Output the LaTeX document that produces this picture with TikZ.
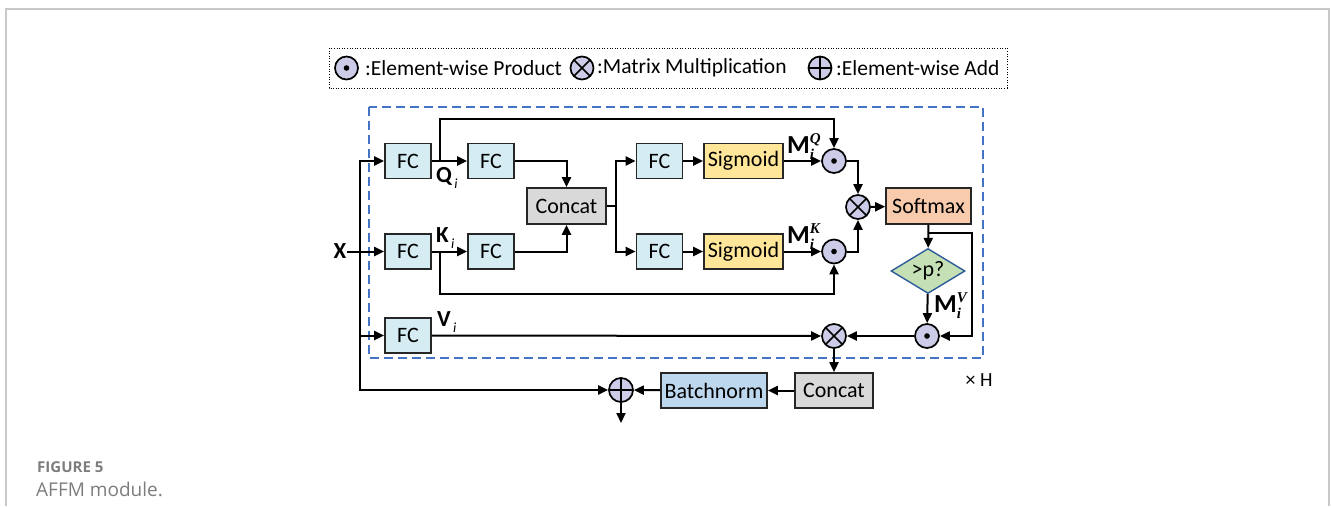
\documentclass[tikz,border=0pt]{standalone}
\usepackage{fontspec}
\setmainfont{Carlito}
\newfontfamily\capfont{Open Sans}
\newfontfamily\serifit{Liberation Serif}[UprightFont=*-Italic]
\usetikzlibrary{arrows.meta,shapes.geometric}

\definecolor{fcblue}{RGB}{212,236,242}
\definecolor{cgray}{RGB}{217,217,217}
\definecolor{sigy}{RGB}{255,230,153}
\definecolor{smax}{RGB}{248,203,173}
\definecolor{dgreen}{RGB}{197,224,180}
\definecolor{dblue}{RGB}{46,92,154}
\definecolor{bnblue}{RGB}{189,215,238}
\definecolor{opfill}{RGB}{204,204,232}
\definecolor{dashblue}{RGB}{68,114,196}
\definecolor{framegray}{RGB}{200,200,200}
\definecolor{capgray}{RGB}{125,125,125}

% bold symbol with italic serif sub- and superscript
\newcommand{\mscr}[3]{#1\makebox[0pt][l]{\raisebox{10pt}{\fontsize{15}{15}\selectfont\serifit #2}}\raisebox{-6pt}{\fontsize{15}{15}\selectfont\serifit #3}}
% bold symbol with small italic subscript
\newcommand{\sscr}[2]{#1\raisebox{-6pt}{\fontsize{14}{14}\selectfont\mdseries\itshape\,#2}}

\begin{document}
\begin{tikzpicture}[x=1pt,y=-1pt,
  conn/.style={line width=2pt,draw=black},
  arr/.style={conn,-{Triangle[length=10pt,width=9pt]}},
  box/.style={draw=black!85,line width=1.7pt,minimum height=35pt,inner sep=0pt,
    font=\fontsize{22}{24}\selectfont},
  fcbox/.style={box,fill=fcblue,minimum width=46pt},
  opnode/.style={circle,draw=black,fill=opfill,line width=1.7pt,minimum size=24pt,inner sep=0pt},
  dotop/.style={opnode,path picture={\fill[black] (path picture bounding box.center) circle (2.8pt);}},
  mulop/.style={opnode,path picture={\draw[black,line width=1.6pt] (path picture bounding box.center)
    +(-12,-12) -- +(12,12) +(-12,12) -- +(12,-12);}},
  addop/.style={opnode,path picture={\draw[black,line width=1.6pt] (path picture bounding box.center)
    +(-14,0) -- +(14,0) +(0,-14) -- +(0,14);}},
  lbl/.style={inner sep=0pt,font=\fontsize{23}{24}\selectfont\bfseries},
  mlbl/.style={inner sep=0pt,font=\fontsize{26}{26}\selectfont\bfseries},
  legtxt/.style={anchor=west,inner sep=0pt,font=\fontsize{21.5}{24}\selectfont}]
\useasboundingbox (0,0) rectangle (1332,506);

% page frame
\draw[framegray,line width=1.2pt] (6,506) -- (6,9) -- (1329,9) -- (1329,506);

% legend
\draw[line width=1pt,dash pattern=on 1pt off 1.6pt] (329,48) rectangle (1007,88);
\node[dotop,minimum size=23pt] (lg1) at (346.5,68) {};
\node[legtxt] (lt1) at (365,68) {:Element-wise Product};
\node[mulop,minimum size=23pt] (lg2) at (582,68) {};
\node[legtxt] (lt2) at (597,68) {:Matrix Multiplication};
\node[addop,minimum size=23pt] (lg3) at (820,68) {};
\node[legtxt] (lt3) at (836,68) {:Element-wise Add};

% repeated head block
\draw[dashblue,line width=1.4pt,dash pattern=on 9pt off 5pt] (369,107) rectangle (983,358);
\node[inner sep=0pt,font=\fontsize{20}{22}\selectfont] (xh) at (979,380) {× H};

% boxes
\node[fcbox] (fcq) at (408,161) {FC};
\node[fcbox] (fcq2) at (491,161) {FC};
\node[fcbox] (fck) at (408,251.5) {FC};
\node[fcbox] (fck2) at (491,251.5) {FC};
\node[fcbox] (fcv) at (408,335.5) {FC};
\node[box,fill=cgray,minimum width=79pt,minimum height=36pt] (cat) at (566.5,206) {Concat};
\node[fcbox] (fc3) at (659.5,161) {FC};
\node[fcbox] (fc4) at (659.5,251.5) {FC};
\node[box,fill=sigy,minimum width=79pt] (sig1) at (743.5,161) {Sigmoid};
\node[box,fill=sigy,minimum width=79pt] (sig2) at (743.5,251.5) {Sigmoid};
\node[dotop] (p1) at (834,161) {};
\node[dotop] (p2) at (834,251.5) {};
\node[mulop] (m1) at (858,207) {};
\node[box,fill=smax,minimum width=85pt,minimum height=36pt] (sm) at (928.5,206) {Softmax};
\node[diamond,draw=dblue,fill=dgreen,line width=1.4pt,inner sep=0pt,aspect=1.6,
  minimum width=74pt,minimum height=45pt,font=\fontsize{22}{24}\selectfont] (th) at (928,271) {>p?};
\node[dotop] (p3) at (927,336) {};
\node[mulop] (m2) at (834,336) {};
\node[box,fill=cgray,minimum width=78pt] (cat2) at (834,390.5) {Concat};
\node[box,fill=bnblue,minimum width=106pt] (bn) at (714,390.5) {Batchnorm};
\node[addop] (add) at (621,390) {};

% labels
\node[lbl] (xl) at (340,251.5) {X};
\node[lbl,anchor=north west] (ql) at (436,167) {\sscr{Q}{i}};
\node[lbl,anchor=base west] (kl) at (436,242) {\sscr{K}{i}};
\node[lbl,anchor=base west] (vl) at (437,326) {\sscr{V}{i}};
\node[mlbl,anchor=base west] (mq) at (787,153) {\mscr{M}{Q}{i}};
\node[mlbl,anchor=base west] (mk) at (787,243.5) {\mscr{M}{K}{i}};
\node[mlbl,anchor=base west] (mv) at (934,312) {\mscr{M}{V}{i}};

% input split
\coordinate (sp) at (360,251.5);
\draw[arr] (xl) -- (fck);
\draw[arr] (sp) |- (fcq);
\draw[arr] (sp) |- (fcv);
\draw[arr] (sp) |- (add);

% query and key paths
\coordinate (qs) at (440,161);
\coordinate (ks) at (440,251.5);
\draw[arr] (fcq) -- (fcq2);
\draw[arr] (fck) -- (fck2);
\draw[arr] (qs) -- ++(0,-42) -| (p1);
\draw[arr] (ks) -- ++(0,42.5) -| (p2);
\draw[arr] (fcq2) -| (cat);
\draw[arr] (fck2) -| (cat);

% gating branches
\coordinate (cs) at (616,206);
\draw[conn] (cat) -- (cs);
\draw[arr] (cs) |- (fc3);
\draw[arr] (cs) |- (fc4);
\draw[arr] (fc3) -- (sig1);
\draw[arr] (fc4) -- (sig2);
\draw[arr] (sig1) -- (p1);
\draw[arr] (sig2) -- (p2);
\draw[arr] (p1) -| (m1);
\draw[arr] (p2) -| (m1);
\draw[arr] (m1) -- (sm);

% attention mask
\coordinate (sb) at (928.5,233);
\coordinate (sr) at (972,233);
\draw[arr] (sm) -- (th);
\draw[arr] (sb) -- (sr) |- (p3);
\draw[arr] (th) -- (p3);
\draw[arr] (p3) -- (m2);
\draw[arr] (fcv) -- (m2);

% output
\coordinate (out) at (621,423);
\draw[arr] (m2) -- (cat2);
\draw[arr] (cat2) -- (bn);
\draw[arr] (bn) -- (add);
\draw[arr] (add) -- (out);

% caption
\node[anchor=west,inner sep=0pt,text=capgray,font=\capfont\fontsize{15}{16}\selectfont\bfseries] (cap1) at (37,467) {FIGURE 5};
\node[anchor=west,inner sep=0pt,text=capgray,font=\capfont\fontsize{19}{20}\selectfont] (cap2) at (36,489) {AFFM module.};
\end{tikzpicture}
\end{document}
